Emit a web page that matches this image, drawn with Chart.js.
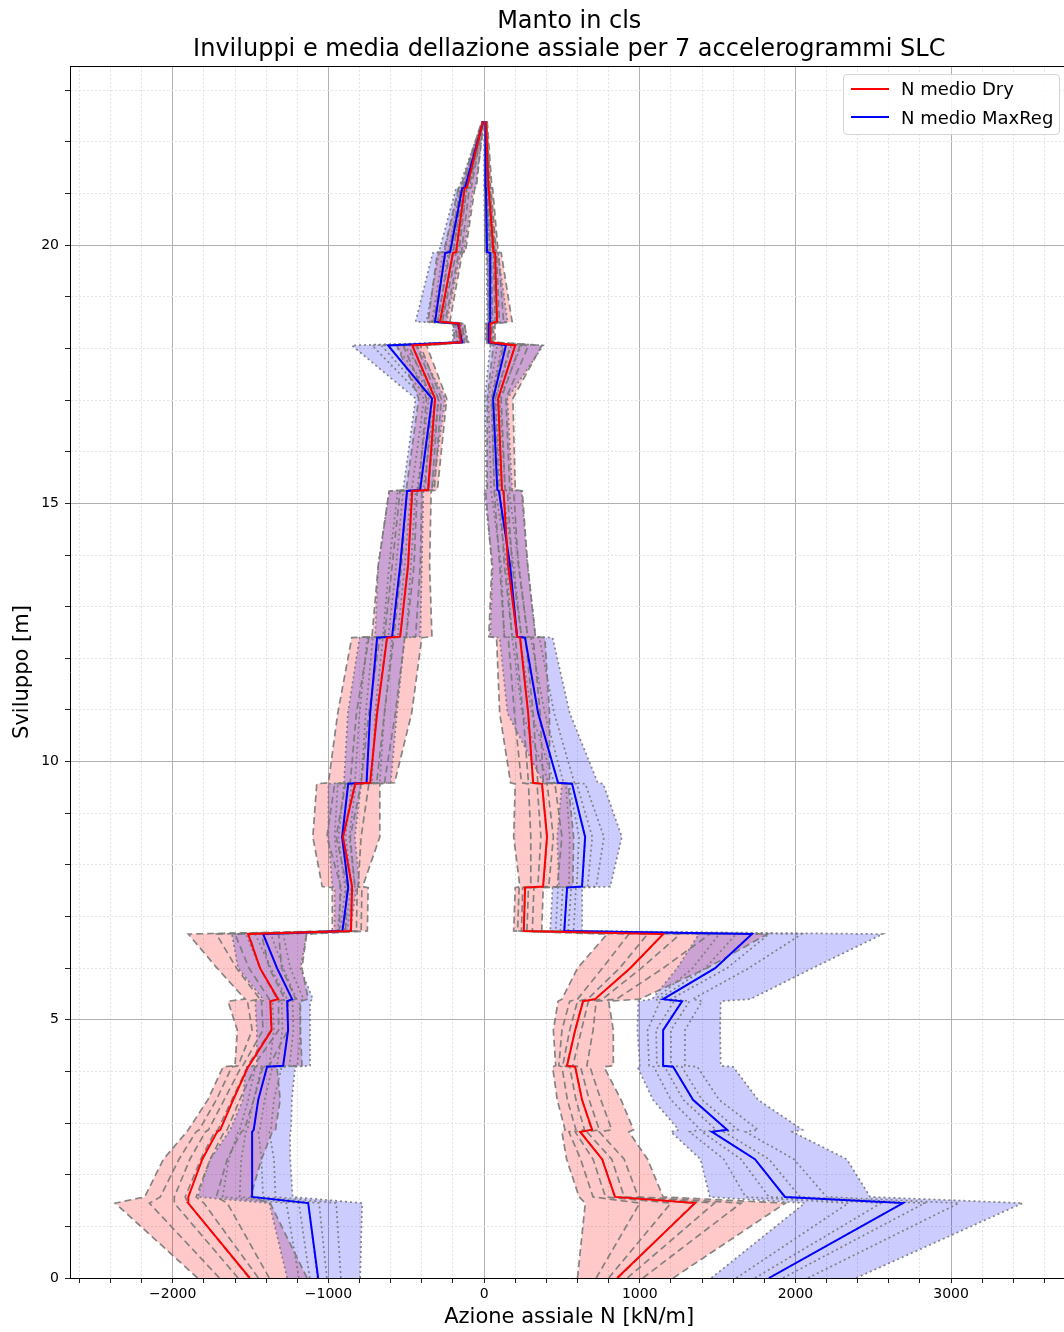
<!DOCTYPE html>
<html>
<head>
<meta charset="utf-8">
<title>Manto in cls</title>
<script src="https://cdn.jsdelivr.net/npm/chart.js@4.4.1/dist/chart.umd.min.js"></script>
<style>
  html, body { margin: 0; padding: 0; overflow: hidden; background: #fff; }
  #wrap { position: relative; width: 1072px; height: 1332px; }
  #legend {
    position: absolute; box-sizing: border-box;
    width: 217px; height: 61px; padding: 0 0 0 7px;
    background: rgba(255,255,255,0.85);
    border: 1px solid #d4d4d4; border-radius: 4px;
    font-family: "DejaVu Sans", sans-serif; font-size: 18px; color: #000;
  }
  #legend .row { display: flex; align-items: center; height: 28.5px; }
  #legend .swatch { width: 38px; height: 0; border-top: 2px solid; margin-right: 12px; }
</style>
</head>
<body>
<div id="wrap">
  <canvas id="chart" width="1072" height="1332"></canvas>
  <div id="legend"></div>
</div>
<script>
// Elevation of each node along the lining (m), bottom to top
const yNodes = [0, 1.45, 1.57, 2.3, 2.83, 2.87, 3.45, 4.09, 4.11, 4.8, 5.36, 5.40, 6.0, 6.66, 6.72,
  7.56, 7.58, 8.54, 9.57, 9.59, 10.94, 12.40, 12.42, 13.8, 15.24, 15.26, 17.03, 18.06, 18.12,
  18.48, 18.52, 19.85, 19.87, 21.10, 21.12, 22.40];

const seriesLabels = ['N medio Dry', 'N medio MaxReg'];
const titleLines = ['Manto in cls', 'Inviluppi e media dellazione assiale per 7 accelerogrammi SLC'];
const xAxisTitle = 'Azione assiale N [kN/m]';
const yAxisTitle = 'Sviluppo [m]';

// Mean axial force N (kN/m) per node
const meanDryLeft = [-1505, -1901, -1900, -1810, -1715, -1695, -1612, -1516, -1510, -1365, -1374, -1323,
  -1439, -1516, -855, -848, -848, -906, -828, -732, -687, -623, -539, -488, -462, -360, -315, -462,
  -150, -160, -283, -200, -180, -125, -110, -8];
const meanRegLeft = [-1066, -1130, -1490, -1490, -1490, -1480, -1451, -1394, -1291, -1259, -1265, -1233,
  -1330, -1419, -910, -873, -873, -912, -873, -755, -732, -687, -591, -539, -495, -411, -334, -617,
  -141, -167, -315, -250, -218, -141, -122, -6];
const meanDryRight = [855, 1355, 841, 758, 617, 694, 629, 585, 533, 585, 636, 713, 938, 1150, 255, 263,
  379, 404, 372, 315, 283, 231, 212, 154, 125, 115, 90, 200, 40, 40, 83, 71, 60, 30, 28, 12];
const meanRegRight = [1830, 2691, 1933, 1740, 1464, 1561, 1342, 1214, 1150, 1150, 1272, 1150, 1484, 1721,
  515, 533, 629, 649, 565, 475, 347, 263, 212, 167, 95, 85, 58, 140, 26, 30, 39, 39, 19, 12, 10, 8];

// Values of the 7 accelerograms at each node (one row per node)
const dryLeftRuns = [
  [-1840,-1700,-1580,-1510,-1450,-1380,-1137],
  [-2370,-2150,-1990,-1900,-1800,-1650,-1374],
  [-2180,-2080,-1990,-1920,-1850,-1720,-1500],
  [-2060,-1960,-1890,-1820,-1760,-1650,-1430],
  [-1910,-1850,-1790,-1730,-1670,-1560,-1360],
  [-1900,-1830,-1770,-1710,-1650,-1540,-1340],
  [-1775,-1720,-1670,-1620,-1570,-1480,-1310],
  [-1676,-1620,-1560,-1520,-1470,-1420,-1330],
  [-1600,-1580,-1550,-1520,-1480,-1380,-1170],
  [-1585,-1490,-1420,-1370,-1320,-1260,-1180],
  [-1645,-1520,-1430,-1370,-1320,-1260,-1180],
  [-1535,-1440,-1380,-1330,-1280,-1210,-1130],
  [-1715,-1590,-1510,-1440,-1380,-1300,-1170],
  [-1900,-1720,-1600,-1510,-1430,-1320,-1140],
  [-975,-930,-890,-855,-820,-790,-750],
  [-975,-925,-885,-850,-815,-785,-745],
  [-1040,-920,-880,-850,-830,-810,-780],
  [-1100,-1010,-950,-910,-860,-790,-670],
  [-1075,-960,-890,-830,-790,-740,-670],
  [-1000,-860,-790,-730,-690,-640,-575],
  [-940,-820,-740,-690,-640,-570,-465],
  [-850,-740,-670,-625,-580,-510,-400],
  [-720,-640,-580,-540,-500,-440,-335],
  [-680,-590,-530,-490,-450,-410,-350],
  [-610,-540,-495,-460,-430,-400,-340],
  [-500,-420,-380,-355,-335,-320,-300],
  [-420,-370,-335,-315,-295,-275,-240],
  [-560,-520,-485,-460,-435,-410,-370],
  [-190,-175,-160,-150,-140,-128,-110],
  [-195,-182,-170,-160,-150,-140,-125],
  [-360,-325,-300,-283,-268,-250,-220],
  [-300,-250,-220,-200,-180,-162,-140],
  [-260,-225,-198,-180,-162,-145,-120],
  [-165,-150,-138,-125,-112,-95,-60],
  [-150,-135,-122,-110,-98,-82,-50],
  [-15,-12,-10,-8,-6,-5,-3]
];
const regLeftRuns = [
  [-1265,-1190,-1120,-1070,-1010,-920,-796],
  [-1380,-1270,-1190,-1130,-1060,-950,-784],
  [-1840,-1680,-1570,-1490,-1420,-1340,-1230],
  [-1760,-1640,-1560,-1490,-1430,-1350,-1245],
  [-1640,-1580,-1530,-1490,-1450,-1380,-1246],
  [-1630,-1570,-1520,-1480,-1440,-1370,-1240],
  [-1550,-1515,-1480,-1450,-1410,-1350,-1235],
  [-1530,-1470,-1430,-1395,-1360,-1300,-1214],
  [-1460,-1380,-1330,-1290,-1250,-1200,-1118],
  [-1460,-1350,-1295,-1260,-1225,-1180,-1118],
  [-1470,-1360,-1300,-1265,-1230,-1185,-1118],
  [-1420,-1320,-1265,-1235,-1205,-1160,-1100],
  [-1580,-1440,-1370,-1330,-1290,-1245,-1180],
  [-1620,-1530,-1470,-1420,-1370,-1290,-1140],
  [-960,-940,-925,-910,-895,-880,-860],
  [-960,-915,-890,-872,-855,-840,-820],
  [-975,-925,-895,-873,-850,-830,-800],
  [-1000,-960,-935,-912,-890,-865,-830],
  [-1000,-940,-900,-873,-850,-825,-790],
  [-900,-830,-790,-755,-720,-670,-600],
  [-875,-800,-760,-732,-700,-640,-560],
  [-800,-750,-715,-687,-650,-590,-510],
  [-700,-650,-615,-590,-555,-500,-410],
  [-680,-610,-565,-540,-510,-470,-400],
  [-610,-555,-520,-495,-470,-440,-390],
  [-520,-465,-430,-410,-390,-365,-330],
  [-440,-385,-355,-335,-315,-290,-250],
  [-850,-720,-660,-615,-570,-510,-430],
  [-200,-170,-152,-141,-130,-118,-100],
  [-200,-185,-175,-167,-158,-148,-130],
  [-440,-370,-335,-315,-295,-270,-240],
  [-330,-290,-265,-250,-230,-200,-150],
  [-290,-255,-232,-218,-200,-175,-130],
  [-180,-162,-150,-141,-128,-110,-70],
  [-160,-142,-130,-122,-110,-92,-55],
  [-12,-9,-7,-6,-5,-4,-2]
];
const dryRightRuns = [
  [600,720,800,860,920,1020,1215],
  [650,1000,1200,1350,1480,1650,1935],
  [610,700,780,840,900,990,1150],
  [530,620,700,760,820,900,1050],
  [500,545,585,620,660,740,930],
  [520,590,645,690,740,820,960],
  [470,535,590,630,675,750,880],
  [440,500,550,585,620,680,770],
  [460,480,505,530,570,660,830],
  [445,500,550,585,625,700,830],
  [475,550,600,635,670,720,800],
  [500,600,665,710,760,850,1000],
  [600,760,870,940,1010,1150,1430],
  [790,930,1050,1150,1260,1450,1820],
  [190,215,240,255,275,310,370],
  [200,225,248,263,285,320,380],
  [230,300,345,380,415,470,570],
  [190,300,365,405,445,500,575],
  [200,285,340,372,405,455,540],
  [170,240,285,315,345,380,420],
  [100,195,250,283,315,360,420],
  [80,155,200,231,265,315,390],
  [30,130,180,212,240,280,330],
  [50,100,130,155,180,220,280],
  [10,65,100,125,150,190,245],
  [20,65,95,115,135,165,200],
  [20,50,72,90,110,140,185],
  [60,125,170,200,230,285,370],
  [15,27,35,40,46,55,70],
  [15,26,34,40,47,56,70],
  [30,55,70,83,98,125,180],
  [20,45,60,71,80,92,110],
  [15,38,50,60,68,77,90],
  [5,17,25,30,36,44,55],
  [5,16,23,28,33,40,50],
  [5,8,10,12,14,16,20]
];
const regRightRuns = [
  [1460,1620,1740,1830,1920,2080,2390],
  [2060,2340,2550,2690,2830,3050,3460],
  [1450,1680,1830,1930,2030,2200,2480],
  [1390,1540,1650,1740,1830,1990,2330],
  [1200,1320,1400,1465,1540,1680,1980],
  [1250,1390,1490,1560,1630,1760,2045],
  [1085,1200,1280,1340,1400,1510,1760],
  [985,1090,1160,1215,1270,1370,1600],
  [1000,1060,1110,1150,1200,1290,1520],
  [985,1050,1105,1150,1200,1290,1516],
  [990,1130,1220,1270,1320,1400,1520],
  [1080,1100,1125,1150,1200,1340,1710],
  [1240,1340,1420,1485,1560,1700,2110],
  [1380,1510,1620,1720,1830,2040,2560],
  [425,460,490,515,540,575,630],
  [440,475,505,533,560,590,630],
  [480,545,595,630,665,720,810],
  [470,550,610,650,695,770,885],
  [500,525,545,565,595,650,765],
  [380,415,450,475,510,580,730],
  [150,245,305,347,390,450,550],
  [100,180,230,263,300,355,440],
  [40,130,180,212,240,280,330],
  [55,110,145,167,190,225,280],
  [0,45,75,95,120,160,240],
  [15,45,68,85,105,135,180],
  [5,28,45,58,75,100,150],
  [40,85,115,140,175,240,380],
  [10,17,22,26,32,42,60],
  [10,19,25,30,36,45,60],
  [20,27,33,39,50,80,150],
  [15,26,33,39,47,62,90],
  [5,11,15,19,26,40,70],
  [0,5,9,12,16,24,40],
  [0,4,7,10,14,21,35],
  [0,4,6,8,10,12,15]
];

// Axis limits and tick spacing
const xLimits = [-2660, 3754];
const yLimits = [0, 23.47];
const xMajorStep = 1000, xMinorStep = 200;
const yMajorStep = 5, yMinorStep = 1;

const FONT = '"DejaVu Sans", "Liberation Sans", sans-serif';
const RED = '#ff0000', BLUE = '#0000ff';
const GRAY = 'rgba(120,120,120,0.9)';
const PINK = 'rgba(255,0,0,0.21)', LAVENDER = 'rgba(0,0,255,0.2)';

function meanLine(vals) {
  return vals.map((v, i) => ({ x: v, y: yNodes[i] }));
}
function runLines(rows) {
  const out = [];
  for (let k = 0; k < rows[0].length; k++) {
    out.push(rows.map((r, i) => ({ x: r[k], y: yNodes[i] })));
  }
  return out;
}
// closed outline: lower envelope upwards, upper envelope back down
function envelope(rows) {
  const lo = rows.map((r, i) => ({ x: Math.min(...r), y: yNodes[i] }));
  const hi = rows.map((r, i) => ({ x: Math.max(...r), y: yNodes[i] }));
  return lo.concat(hi.reverse());
}

const base = { showLine: true, pointRadius: 0, pointHoverRadius: 0, tension: 0 };
const datasets = [];

datasets.push({ ...base, label: seriesLabels[0], data: meanLine(meanDryLeft), borderColor: RED, borderWidth: 2, order: 0 });
datasets.push({ ...base, label: seriesLabels[0], data: meanLine(meanDryRight), borderColor: RED, borderWidth: 2, order: 0 });
datasets.push({ ...base, label: seriesLabels[1], data: meanLine(meanRegLeft), borderColor: BLUE, borderWidth: 2, order: 0 });
datasets.push({ ...base, label: seriesLabels[1], data: meanLine(meanRegRight), borderColor: BLUE, borderWidth: 2, order: 0 });

[dryLeftRuns, dryRightRuns].forEach(rows => runLines(rows).forEach(pts => {
  datasets.push({ ...base, data: pts, borderColor: GRAY, borderWidth: 1.7, borderDash: [7, 4], order: 1 });
}));
[regLeftRuns, regRightRuns].forEach(rows => runLines(rows).forEach(pts => {
  datasets.push({ ...base, data: pts, borderColor: GRAY, borderWidth: 1.7, borderDash: [2, 3], order: 1 });
}));

[dryLeftRuns, dryRightRuns].forEach(rows => {
  datasets.push({ ...base, data: envelope(rows), fill: 'shape', backgroundColor: PINK, borderColor: 'rgba(0,0,0,0)', borderWidth: 0, order: 3 });
});
[regLeftRuns, regRightRuns].forEach(rows => {
  datasets.push({ ...base, data: envelope(rows), fill: 'shape', backgroundColor: LAVENDER, borderColor: 'rgba(0,0,0,0)', borderWidth: 0, order: 2 });
});

function tickList(lo, hi, step) {
  const list = [];
  for (let v = Math.ceil(lo / step) * step; v <= hi + 1e-9; v += step) list.push({ value: Math.round(v * 1000) / 1000 });
  return list;
}
const isMultiple = (v, step) => Math.abs(v / step - Math.round(v / step)) < 1e-6;

// top and right spines, legend placement
const frame = {
  id: 'frame',
  afterDatasetsDraw(chart) {
    const { ctx, chartArea: a } = chart;
    ctx.save();
    ctx.strokeStyle = '#000';
    ctx.lineWidth = 1;
    ctx.beginPath();
    ctx.moveTo(a.left, a.top + 0.5);
    ctx.lineTo(a.right, a.top + 0.5);
    ctx.moveTo(a.right - 0.5, a.top);
    ctx.lineTo(a.right - 0.5, a.bottom);
    ctx.stroke();
    ctx.restore();
  },
  afterRender(chart) {
    const a = chart.chartArea;
    const box = document.getElementById('legend');
    box.style.left = (a.right - 8.5 - 217) + 'px';
    box.style.top = (a.top + 7.5) + 'px';
  }
};

const legendBox = document.getElementById('legend');
[[seriesLabels[0], RED], [seriesLabels[1], BLUE]].forEach(([txt, col]) => {
  const row = document.createElement('div');
  row.className = 'row';
  const sw = document.createElement('span');
  sw.className = 'swatch';
  sw.style.borderTopColor = col;
  const label = document.createElement('span');
  label.textContent = txt;
  row.appendChild(sw);
  row.appendChild(label);
  legendBox.appendChild(row);
});

new Chart(document.getElementById('chart'), {
  type: 'scatter',
  data: { datasets },
  plugins: [frame],
  options: {
    responsive: false,
    animation: false,
    devicePixelRatio: 1,
    events: [],
    layout: { padding: { left: 0, right: 3.5, top: 0, bottom: 0 } },
    plugins: {
      legend: { display: false },
      tooltip: { enabled: false },
      title: {
        display: true, text: titleLines, fullSize: false, color: '#000',
        font: { family: FONT, size: 24, weight: 'normal', lineHeight: 1.167 },
        padding: { top: 8, bottom: 2 }
      }
    },
    scales: {
      x: {
        type: 'linear', min: xLimits[0], max: xLimits[1],
        afterBuildTicks: s => { s.ticks = tickList(xLimits[0], xLimits[1], xMinorStep); },
        afterFit: s => { s.height = 54; },
        ticks: {
          autoSkip: false, maxRotation: 0, padding: 3, color: '#000',
          font: { family: FONT, size: 14 },
          callback: v => isMultiple(v, xMajorStep) ? String(v).replace('-', '\u2212') : ''
        },
        grid: {
          color: c => (c.tick && isMultiple(c.tick.value, xMajorStep)) ? '#b0b0b0' : '#e4e4e4',
          lineWidth: 1, tickLength: 5, tickColor: '#222'
        },
        border: { display: true, color: '#000', width: 1,
          dash: c => (c.tick && !isMultiple(c.tick.value, xMajorStep)) ? [2, 2] : [] },
        title: { display: true, text: xAxisTitle, color: '#000',
          font: { family: FONT, size: 21 }, padding: { top: 0, bottom: 1.5 } }
      },
      y: {
        type: 'linear', min: yLimits[0], max: yLimits[1],
        afterBuildTicks: s => { s.ticks = tickList(yLimits[0], yLimits[1], yMinorStep); },
        afterFit: s => { s.width = 70; },
        ticks: {
          autoSkip: false, padding: 6, color: '#000',
          font: { family: FONT, size: 14 },
          callback: v => isMultiple(v, yMajorStep) ? String(v) : ''
        },
        grid: {
          color: c => (c.tick && isMultiple(c.tick.value, yMajorStep)) ? '#b0b0b0' : '#e4e4e4',
          lineWidth: 1, tickLength: 5, tickColor: '#222'
        },
        border: { display: true, color: '#000', width: 1,
          dash: c => (c.tick && !isMultiple(c.tick.value, yMajorStep)) ? [2, 2] : [] },
        title: { display: true, text: yAxisTitle, color: '#000',
          font: { family: FONT, size: 21 }, padding: { top: 9.5, bottom: 0 } }
      }
    }
  }
});
</script>
</body>
</html>
